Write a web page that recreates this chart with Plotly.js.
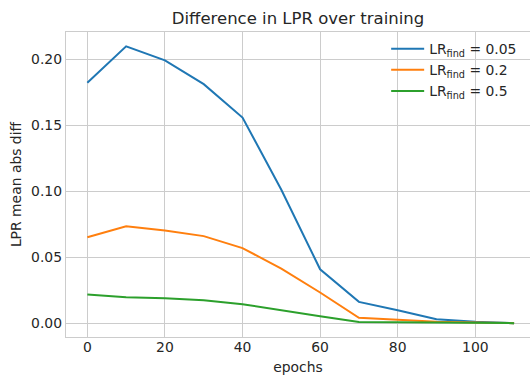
<!DOCTYPE html>
<html>
<head>
<meta charset="utf-8">
<script src="https://cdn.plot.ly/plotly-3.0.1.min.js"></script>
<style>html,body{margin:0;padding:0;background:#fff;}#chart{width:530px;height:376px;}</style>
</head>
<body>
<div id="chart"></div>
<script>
const epochs = [0, 10, 20, 30, 40, 50, 60, 70, 80, 90, 100, 110];
const lr005 = [0.182, 0.2096, 0.199, 0.181, 0.1557, 0.101, 0.0408, 0.0161, 0.0098, 0.003, 0.001, 0.0];
const lr02  = [0.0651, 0.0734, 0.0702, 0.0659, 0.0568, 0.0413, 0.0232, 0.004, 0.0025, 0.001, 0.0005, 0.0];
const lr05  = [0.0217, 0.0196, 0.0189, 0.0174, 0.0143, 0.0100, 0.0053, 0.0008, 0.0005, 0.0002, 0.0001, 0.0];
const seriesNames = ['LR<sub>find</sub> = 0.05', 'LR<sub>find</sub> = 0.2', 'LR<sub>find</sub> = 0.5'];
const colors = ['#1f77b4', '#ff7f0e', '#2ca02c'];
const xTicks = [0, 20, 40, 60, 80, 100];
const yTicks = [0, 0.05, 0.10, 0.15, 0.20];

const font = 'DejaVu Sans, sans-serif';
const traces = [lr005, lr02, lr05].map((ys, i) => ({
  x: epochs, y: ys, type: 'scatter', mode: 'lines', name: seriesNames[i],
  line: {color: colors[i], width: 2}
}));

const layout = {
  width: 530, height: 376,
  margin: {l: 66, r: 0, t: 32, b: 39},
  paper_bgcolor: '#ffffff', plot_bgcolor: '#ffffff',
  font: {family: font, color: '#262626', size: 14},
  title: {text: 'Difference in LPR over training', font: {family: font, size: 16.5, color: '#262626'},
          x: 0.5, xref: 'paper', xanchor: 'center', y: 1, yref: 'paper', yanchor: 'bottom', pad: {b: 8}},
  xaxis: {
    range: [-5.5, 114.1], tickvals: xTicks, ticktext: xTicks.map(String),
    showgrid: true, gridcolor: '#cccccc', gridwidth: 1, zeroline: false,
    showline: true, linecolor: '#cccccc', linewidth: 1.2, mirror: true,
    ticks: '', ticklen: 0, ticklabelstandoff: -3, tickfont: {family: font, size: 13.9, color: '#262626'},
    title: {text: 'epochs', font: {family: font, size: 13.9, color: '#262626'}, standoff: 8}
  },
  yaxis: {
    range: [-0.0105, 0.2205], tickvals: yTicks, ticktext: yTicks.map(v => v.toFixed(2)),
    showgrid: true, gridcolor: '#cccccc', gridwidth: 1, zeroline: false,
    showline: true, linecolor: '#cccccc', linewidth: 1.2, mirror: false,
    ticks: '', tickfont: {family: font, size: 13.9, color: '#262626'},
    title: {text: 'LPR mean abs diff', font: {family: font, size: 13.9, color: '#262626'}, standoff: 6}
  },
  showlegend: true,
  legend: {x: 0.69, y: 0.996, xanchor: 'left', yanchor: 'top', bgcolor: 'rgba(0,0,0,0)',
           itemwidth: 33,
           font: {family: font, size: 13.9, color: '#262626'}, tracegroupgap: 0}
};
Plotly.newPlot('chart', traces, layout, {displayModeBar: false, staticPlot: true});
</script>
</body>
</html>
